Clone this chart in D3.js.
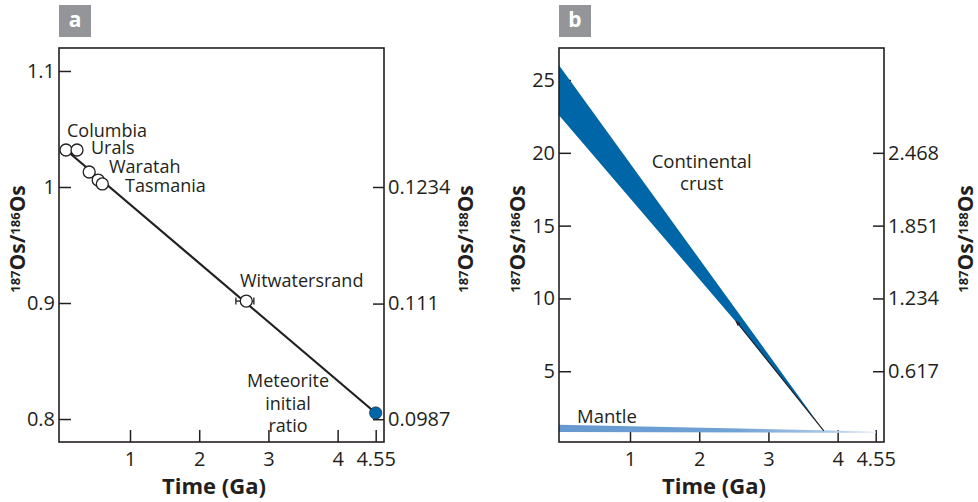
<!DOCTYPE html>
<html><head><meta charset="utf-8">
<script src="https://cdn.jsdelivr.net/npm/d3@7"></script>
<style>
body{margin:0;background:#fff;}
svg{display:block;font-family:"Open Sans",sans-serif;}
</style></head><body>
<svg id="c" width="978" height="502"></svg>
<script>
// ---------- data ----------
const sampleNames = ["Columbia","Urals","Waratah","","Tasmania","Witwatersrand"];
const sampleTime  = [0.075, 0.234, 0.41, 0.54, 0.6, 2.68];
const sampleRatio = [1.0319, 1.0319, 1.0129, 1.006, 1.0026, 0.9017];
const witsErrTime = [2.53, 2.79];
const meteoriteTime = [4.55];
const meteoriteRatio = [0.8052];
const isochronTime = [0.075, 4.55];
const isochronRatio = [1.0319, 0.8052];

const crustUpperTime = [-0.03, 3.8];
const crustUpper     = [26.05, 0.9];
const crustLowerTime = [-0.03, 2.52, 3.8];
const crustLower     = [22.6, 8.45, 0.9];
const mantleTime  = [-0.03, 4.55];
const mantleUpper = [1.33, 0.86];
const mantleLower = [0.83, 0.76];
const arrowTime  = [3.8, 2.53];
const arrowRatio = [0.9, 8.45];

const timeTicks = [1, 2, 3, 4, 4.55];
const timeTickLabels = ["1","2","3","4","4.55"];
const aLeftTicks = [0.8, 0.9, 1, 1.1];
const aLeftLabels = ["0.8","0.9","1","1.1"];
const aRightTicks = [0.0987, 0.111, 0.1234];
const aRightLabels = ["0.0987","0.111","0.1234"];
const bLeftTicks = [5, 10, 15, 20, 25];
const bRightTicks = [0.617, 1.234, 1.851, 2.468];
const bRightLabels = ["0.617","1.234","1.851","2.468"];
const ratio186to188 = 8.1037;

// ---------- layout ----------
const ink = "#231f20", blue = "#0066a8";
const L = 59, R = 384, T = 48, B = 442;
const svg = d3.select("#c");

const defs = svg.append("defs");
const grad = defs.append("linearGradient").attr("id","mg").attr("x1","0%").attr("x2","100%");
[["0%","#6699cf"],["55%","#70a2d5"],["85%","#aac7e6"],["100%","#eef3fa"]].forEach(s=>grad.append("stop").attr("offset",s[0]).attr("stop-color",s[1]));
defs.append("marker").attr("id","ah").attr("viewBox","0 0 10 10").attr("refX",9).attr("refY",5)
  .attr("markerWidth",9).attr("markerHeight",5).attr("orient","auto")
  .append("path").attr("d","M0,1.5L10,5L0,8.5Z").attr("fill",ink);
defs.append("clipPath").attr("id","clipb").append("rect").attr("x",L).attr("y",T).attr("width",R-L).attr("height",B-T);

const x = d3.scaleLinear().domain([-0.026, 4.67]).range([L, R]);

function panel(g, letter, yL, yR, lTicks, lLabels, rTicks, rLabels){
  g.append("rect").attr("x",L).attr("y",5).attr("width",32).attr("height",32).attr("fill","#939598");
  g.append("text").attr("x",L+16).attr("y",27).attr("text-anchor","middle").attr("fill","#fff")
    .attr("font-weight","bold").attr("font-size",21).text(letter);

  const axL = g.append("g").attr("transform",`translate(${L},0)`)
    .call(d3.axisLeft(yL).tickValues(lTicks).tickFormat((d,i)=>lLabels[i]).tickSizeInner(-12).tickSizeOuter(0).tickPadding(4));
  const axR = g.append("g").attr("transform",`translate(${R},0)`)
    .call(d3.axisRight(yR).tickValues(rTicks).tickFormat((d,i)=>rLabels[i]).tickSizeInner(-11).tickSizeOuter(0).tickPadding(4));
  const axB = g.append("g").attr("transform",`translate(0,${B})`)
    .call(d3.axisBottom(x).tickValues(timeTicks).tickFormat((d,i)=>timeTickLabels[i]).tickSizeInner(-12).tickSizeOuter(0).tickPadding(10));
  [axL,axR,axB].forEach(a=>{
    a.select(".domain").remove();
    a.selectAll("line").attr("stroke",ink).attr("stroke-width",1.5);
    a.selectAll("text").attr("fill",ink).attr("font-size",20).attr("font-family","'Open Sans',sans-serif");
  });

  g.append("text").attr("x",214).attr("y",494).attr("text-anchor","middle").attr("fill",ink)
    .attr("font-weight","bold").attr("font-size",22).text("Time (Ga)");

  function title(xb, den){
    const t = g.append("text").attr("transform",`translate(${xb},239) rotate(-90)`).attr("text-anchor","middle")
      .attr("fill",ink).attr("font-weight","bold").attr("font-size",21);
    t.append("tspan").attr("font-size",13).attr("dy",-5).text("187");
    t.append("tspan").attr("dy",5).text("Os/");
    t.append("tspan").attr("font-size",13).attr("dy",-5).text(den);
    t.append("tspan").attr("dy",5).text("Os");
  }
  title(L-34, "186");
  title(R+89, "188");
}
function frame(g){
  g.append("rect").attr("x",L).attr("y",T).attr("width",R-L).attr("height",B-T)
    .attr("fill","none").attr("stroke",ink).attr("stroke-width",1.6);
}

// ---------- panel a ----------
const ga = svg.append("g");
const yA = d3.scaleLinear().domain([0.7802, 1.1198]).range([B, T]);
const yAR = d3.scaleLinear().domain(yA.domain().map(v=>v/ratio186to188)).range([B, T]);
panel(ga, "a", yA, yAR, aLeftTicks, aLeftLabels, aRightTicks, aRightLabels);
frame(ga);

ga.append("path").datum(isochronTime.map((t,i)=>[t,isochronRatio[i]]))
  .attr("d", d3.line().x(d=>x(d[0])).y(d=>yA(d[1])))
  .attr("stroke",ink).attr("stroke-width",2.2).attr("fill","none");

const wi = 5;
ga.append("line").attr("x1",x(witsErrTime[0])).attr("x2",x(witsErrTime[1]))
  .attr("y1",yA(sampleRatio[wi])).attr("y2",yA(sampleRatio[wi])).attr("stroke",ink).attr("stroke-width",1.3);
witsErrTime.forEach(t=>ga.append("line").attr("x1",x(t)).attr("x2",x(t))
  .attr("y1",yA(sampleRatio[wi])-3.5).attr("y2",yA(sampleRatio[wi])+3.5).attr("stroke",ink).attr("stroke-width",1.3));

ga.selectAll("circle.s").data(sampleTime.map((t,i)=>({t, r:sampleRatio[i]}))).join("circle")
  .attr("class","s").attr("cx",d=>x(d.t)).attr("cy",d=>yA(d.r)).attr("r",6)
  .attr("fill","#fff").attr("stroke",ink).attr("stroke-width",1.3);
ga.selectAll("circle.m").data(meteoriteTime.map((t,i)=>({t, r:meteoriteRatio[i]}))).join("circle")
  .attr("class","m").attr("cx",d=>x(d.t)).attr("cy",d=>yA(d.r)).attr("r",6.2)
  .attr("fill",blue).attr("stroke",ink).attr("stroke-width",0.6);

const annA = [
  ["Columbia",67,136.5,"start"],["Urals",91,154,"start"],["Waratah",109,173,"start"],
  ["Tasmania",125,192,"start"],["Witwatersrand",240,286.5,"start"],
  ["Meteorite",288,386.5,"middle"],["initial",288,409.5,"middle"],["ratio",288,431.5,"middle"]
];
ga.selectAll("text.ann").data(annA).join("text").attr("class","ann")
  .attr("x",d=>d[1]).attr("y",d=>d[2]).attr("text-anchor",d=>d[3])
  .attr("fill",ink).attr("font-size",18).text(d=>d[0]);

// ---------- panel b ----------
const gb = svg.append("g").attr("transform","translate(500,0)");
const yB = d3.scaleLinear().domain([0.14, 27.2]).range([B, T]);
const yBR = d3.scaleLinear().domain(yB.domain().map(v=>v/ratio186to188)).range([B, T]);
panel(gb, "b", yB, yBR, bLeftTicks, bLeftTicks.map(String), bRightTicks, bRightLabels);

const band = (tu, up, tl, lo, yy) => {
  const pts = tu.map((t,i)=>[x(t), yy(up[i])]);
  const back = tl.map((t,i)=>[x(t), yy(lo[i])]).reverse();
  return "M" + pts.concat(back).map(p=>p.join(",")).join("L") + "Z";
};
const gbc = gb.append("g").attr("clip-path","url(#clipb)");
gbc.append("path").attr("d", band(mantleTime, mantleUpper, mantleTime, mantleLower, yB)).attr("fill","url(#mg)");
gbc.append("path").attr("d", band(crustUpperTime, crustUpper, crustLowerTime, crustLower, yB)).attr("fill",blue);
gb.append("line").attr("x1",x(arrowTime[0])).attr("y1",yB(arrowRatio[0]))
  .attr("x2",x(arrowTime[1])).attr("y2",yB(arrowRatio[1]))
  .attr("stroke",ink).attr("stroke-width",1.1).attr("marker-end","url(#ah)");
frame(gb);

const annB = [["Continental",201.7,168,"middle"],["crust",201.7,190,"middle"],["Mantle",77,422.5,"start"]];
gb.selectAll("text.ann").data(annB).join("text").attr("class","ann")
  .attr("x",d=>d[1]).attr("y",d=>d[2]).attr("text-anchor",d=>d[3])
  .attr("fill",ink).attr("font-size",18.5).text(d=>d[0]);
</script></body></html>
